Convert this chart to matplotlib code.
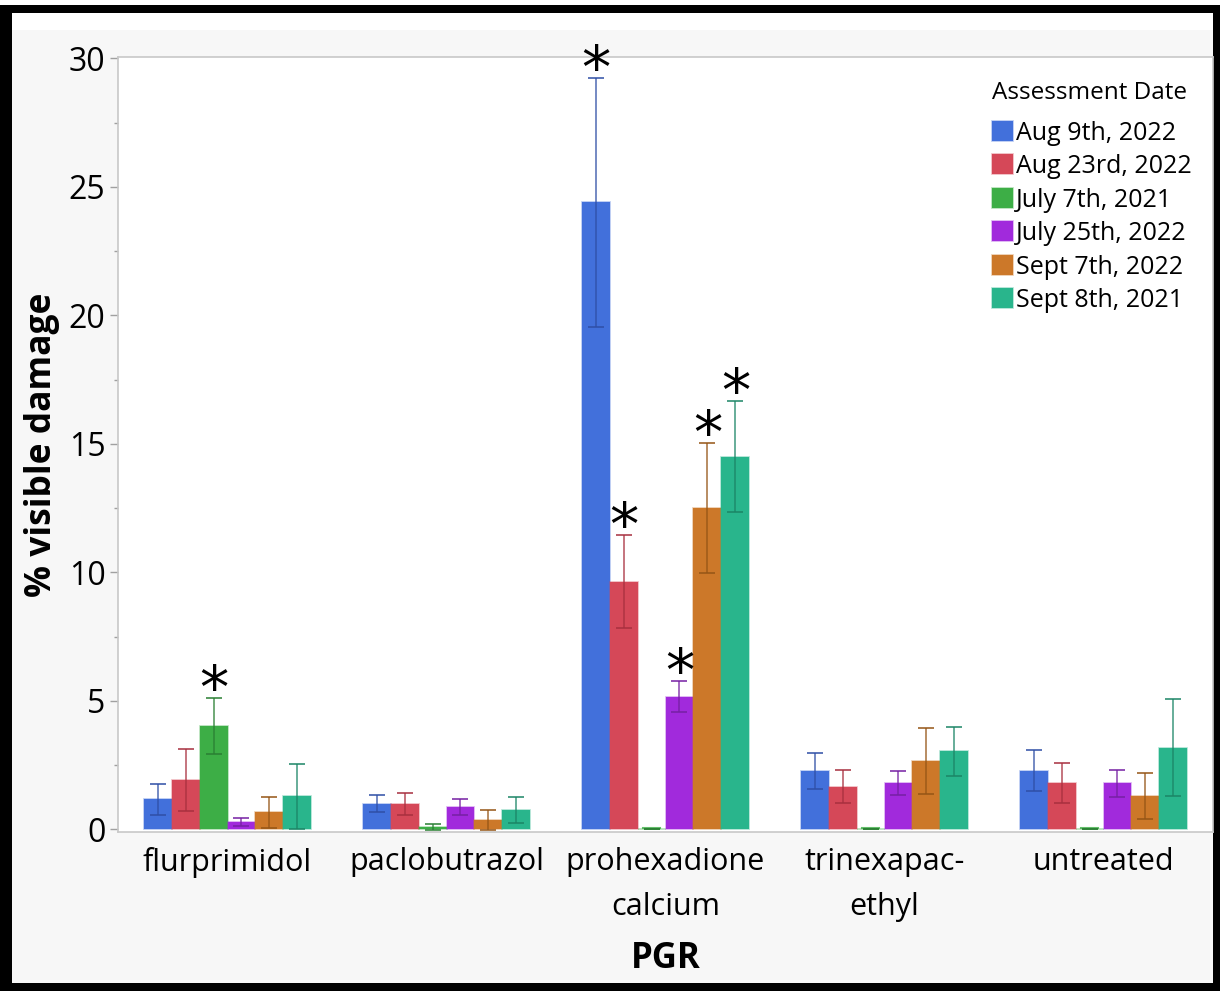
import matplotlib
matplotlib.use("Agg")
import matplotlib.pyplot as plt
import numpy as np
from matplotlib.patches import Rectangle

plt.rcParams['font.family'] = ['Open Sans', 'DejaVu Sans']

# Plant growth regulators on the x axis
pgr = ["flurprimidol", "paclobutrazol", "prohexadione\ncalcium", "trinexapac-\nethyl", "untreated"]

# Assessment dates (legend order)
dates = ["Aug 9th, 2022", "Aug 23rd, 2022", "July 7th, 2021",
         "July 25th, 2022", "Sept 7th, 2022", "Sept 8th, 2021"]

# Mean % visible damage per date, in PGR order
aug9 = [1.17, 1.00, 24.40, 2.29, 2.29]
aug23 = [1.92, 1.00, 9.64, 1.67, 1.80]
jul7 = [4.03, 0.10, 0.0, 0.0, 0.0]
jul25 = [0.30, 0.88, 5.17, 1.80, 1.80]
sep7 = [0.67, 0.37, 12.51, 2.66, 1.29]
sep8 = [1.29, 0.76, 14.50, 3.04, 3.18]
means = [aug9, aug23, jul7, jul25, sep7, sep8]

# Error half-widths per date, in PGR order
err_aug9 = [0.60, 0.33, 4.85, 0.70, 0.80]
err_aug23 = [1.20, 0.42, 1.80, 0.63, 0.79]
err_jul7 = [1.10, 0.12, 0.0, 0.0, 0.0]
err_jul25 = [0.15, 0.32, 0.60, 0.47, 0.52]
err_sep7 = [0.60, 0.40, 2.52, 1.27, 0.90]
err_sep8 = [1.26, 0.52, 2.15, 0.95, 1.88]
errors = [err_aug9, err_aug23, err_jul7, err_jul25, err_sep7, err_sep8]

# Significant differences marked with an asterisk: (date index, pgr index)
significant = [(2, 0), (0, 2), (1, 2), (3, 2), (4, 2), (5, 2)]

colors = ["#4270DB", "#D54858", "#3DAE46", "#A12ADC", "#CC7829", "#29B58C"]
err_colors = ["#2F4FA6", "#A8303F", "#2A7F33", "#7620A3", "#955516", "#1C8566"]

fig = plt.figure(figsize=(12.2, 9.91), dpi=100)
fig.patch.set_facecolor("white")

# Page background with a black frame
W, H = 1220, 991
def frect(x0, y0, x1, y1, color):
    fig.patches.append(Rectangle((x0 / W, 1 - y1 / H), (x1 - x0) / W, (y1 - y0) / H,
                                 transform=fig.transFigure, facecolor=color,
                                 edgecolor="none", zorder=-10))
frect(0, 30, W, H, "#F7F7F7")
frect(0, 5, W, 13, "black")
frect(0, 5, 12, H, "black")
frect(1213, 5, W, H, "black")
frect(0, 983, W, H, "black")

ax = fig.add_axes([118 / W, 1 - 832 / H, (1213 - 118) / W, (832 - 57) / H])
ax.set_facecolor("white")

n_series = len(dates)
x = np.arange(len(pgr))
group_w = 0.767
bar_w = group_w / n_series

for i in range(n_series):
    pos = x - group_w / 2 + bar_w * (i + 0.5)
    ax.bar(pos, means[i], width=bar_w, color=colors[i],
           edgecolor=colors[i] + "66", linewidth=1.2, label=dates[i], zorder=2)
    for j in range(len(pgr)):
        if means[i][j] == 0:
            ax.plot([pos[j] - bar_w * 0.3, pos[j] + bar_w * 0.3], [0.05, 0.05],
                    color=colors[i], lw=1.5, alpha=0.8, zorder=3)
    ax.errorbar(pos, means[i], yerr=errors[i], fmt="none", ecolor=err_colors[i],
                elinewidth=1.1, capsize=5.5, capthick=1.3, alpha=0.85, zorder=3)

for i, j in significant:
    pos = x[j] - group_w / 2 + bar_w * (i + 0.5)
    top = means[i][j] + errors[i][j]
    ax.annotate("*", xy=(pos, top), xytext=(0, -22), textcoords="offset pixels",
                ha="center", va="bottom", fontsize=42, family="DejaVu Sans",
                color="black", zorder=4)

ax.set_xlim(-0.5, len(pgr) - 0.5)
ax.set_ylim(-0.1, 30.05)
ax.set_yticks([0, 5, 10, 15, 20, 25, 30])
ax.set_yticks(np.arange(2.5, 30, 5), minor=True)
ax.tick_params(axis="y", which="major", length=6, width=1, color="#A0A0A0",
               labelsize=23, pad=3)
ax.tick_params(axis="y", which="minor", length=3, width=1, color="#A0A0A0")
ax.set_xticks(x)
ax.set_xticklabels(pgr, fontsize=22, linespacing=1.62)
ax.tick_params(axis="x", length=0, pad=11)
for sp in ax.spines.values():
    sp.set_color("#C8C8C8")
    sp.set_linewidth(1.2)

ax.set_ylabel("% visible damage", fontsize=25.5, fontweight="bold", labelpad=6)
ax.set_xlabel("PGR", fontsize=25, fontweight="bold", labelpad=14)

leg = ax.legend(title="Assessment Date", loc="upper right", bbox_to_anchor=(0.994, 0.988),
                frameon=False, fontsize=18, title_fontsize=17.5,
                handlelength=0.85, handleheight=0.85, handletextpad=0.1,
                labelspacing=0.34, borderaxespad=0.2)
leg._legend_box.align = "left"
leg._legend_box.sep = 11

fig.savefig("out.png", dpi=100, facecolor=fig.get_facecolor())
